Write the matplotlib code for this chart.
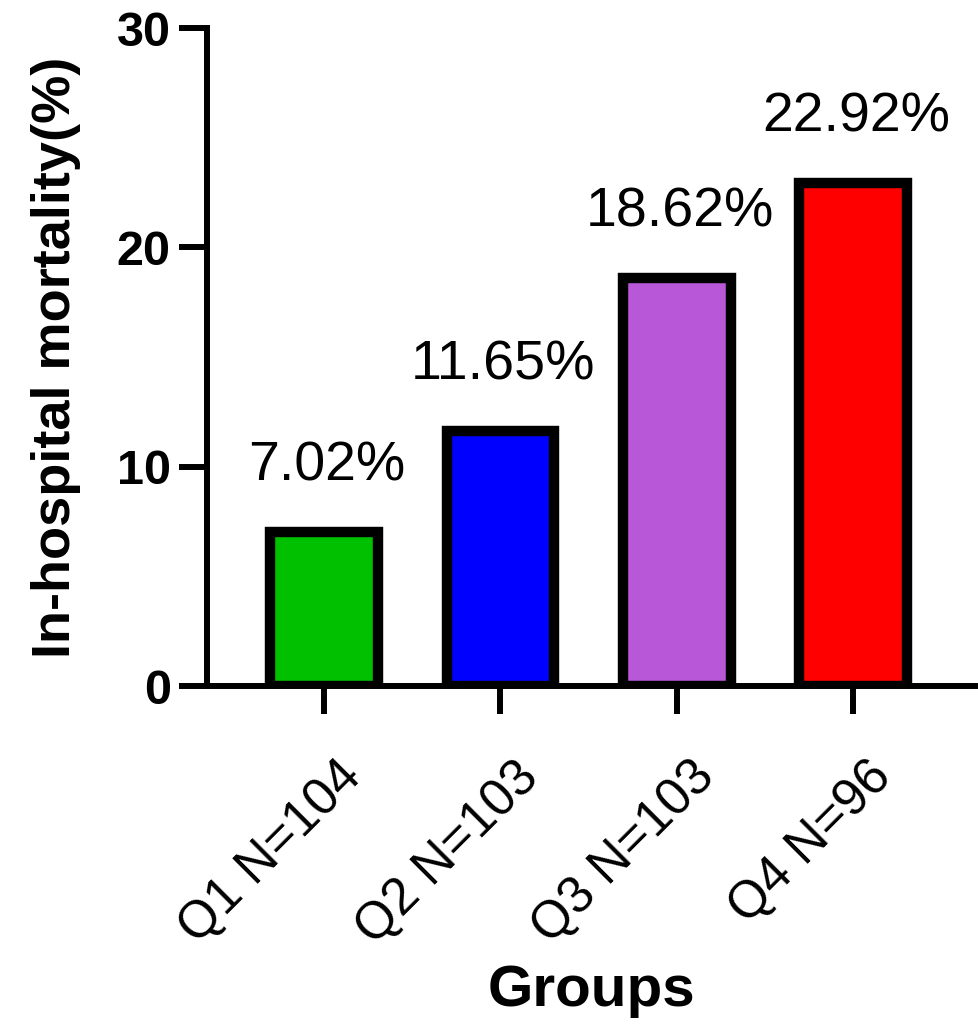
import matplotlib
matplotlib.use("Agg")
import matplotlib.pyplot as plt
from matplotlib.transforms import ScaledTranslation

plt.rcParams['font.family'] = ['Liberation Sans', 'DejaVu Sans']

# data
groups = ["Q1 N=104", "Q2 N=103", "Q3 N=103", "Q4 N=96"]
mortality = [7.02, 11.65, 18.62, 22.92]
bar_colors = ["#00C000", "#0000FF", "#B858D8", "#FF0000"]
yticks = [0, 10, 20, 30]

fig = plt.figure(figsize=(9.79, 10.24), dpi=100)
ax = fig.add_axes([0.2114, 0.330, 0.785, 0.6426])

x = list(range(len(groups)))
ax.bar(x, mortality, width=0.61, color=bar_colors, edgecolor='black',
       linewidth=7.5, zorder=2)

for xi, v in zip(x, mortality):
    ax.annotate(f"{v:.2f}%", (xi, v), xytext=(2, 37), textcoords='offset points',
                ha='center', va='baseline', fontsize=40)

ax.set_xlim(-0.664, 3.693)
ax.set_ylim(0, 30)
ax.set_yticks(yticks)
ax.set_yticklabels([str(t) for t in yticks], fontsize=35, fontweight='bold')
ax.set_xticks(x)
ax.set_xticklabels(groups, fontsize=37, rotation=45, ha='right',
                   va='center', rotation_mode='anchor')

ax.tick_params(axis='both', length=20, width=4.3, color='black')
ax.tick_params(axis='y', pad=6)
ax.tick_params(axis='x', pad=40)
shift = ScaledTranslation(0.30, 0, fig.dpi_scale_trans)
for lab in ax.get_xticklabels():
    lab.set_transform(lab.get_transform() + shift)

for side in ['top', 'right']:
    ax.spines[side].set_visible(False)
for side in ['left', 'bottom']:
    ax.spines[side].set_linewidth(4.3)
ax.spines['bottom'].set_zorder(3)

ax.set_ylabel("In-hospital mortality(%)", fontsize=39, fontweight='bold', labelpad=26)
ax.set_xlabel("Groups", fontsize=42, fontweight='bold', labelpad=8)

fig.savefig("out.png", dpi=100)
